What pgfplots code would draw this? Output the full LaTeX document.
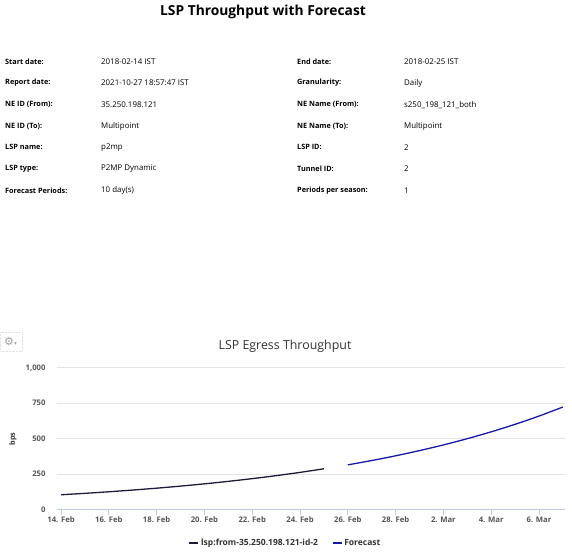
\documentclass[border=0pt]{standalone}
\usepackage{fontspec}
\setmainfont{Open Sans}
\newfontfamily\dejavu{DejaVu Sans}
\usepackage{pgfplots}
\usepackage{pgfplotstable}
\pgfplotsset{compat=1.18}
\definecolor{actualc}{HTML}{1C1C3A}
\definecolor{fcc}{HTML}{1818A8}
\definecolor{gridc}{HTML}{E3E3E3}
\definecolor{axisc}{HTML}{C0CCE0}
\definecolor{labc}{HTML}{555555}
\definecolor{titc}{HTML}{333333}

\pgfplotstableread{
day val
0 104.0
1 114.1
2 125.1
3 137.2
4 150.4
5 165.0
6 181.0
7 198.5
8 217.7
9 238.7
10 261.8
11 287.1
}\actual
\pgfplotstableread{
day val
12 314.9
13 345.3
14 378.7
15 415.3
16 455.5
17 499.5
18 547.8
19 600.8
20 658.9
21 722.6
}\forecast

\begin{document}
\begin{tikzpicture}[x=1pt,y=1pt]
\useasboundingbox (0,0) rectangle (572,558);
\node[font=\bfseries\fontsize{13.8}{16}\selectfont] at (263,546) {LSP Throughput with Forecast};
\begin{scope}[every node/.style={anchor=west,inner sep=0pt,font=\fontsize{7.9}{9}\selectfont}]
\foreach \yy/\la/\va/\lb/\vb in {
61.5/Start date:/2018-02-14 IST/End date:/2018-02-25 IST,
83/Report date:/2021-10-27 18:57:47 IST/Granularity:/Daily,
104.7/NE ID (From):/35.250.198.121/NE Name (From):/s250\_198\_121\_both,
126/NE ID (To):/Multipoint/NE Name (To):/Multipoint,
147.3/LSP name:/p2mp/LSP ID:/2,
169/LSP type:/P2MP Dynamic/Tunnel ID:/2,
190.7/Forecast Periods:/10 day(s)/Periods per season:/1}{
\node[font=\bfseries\fontsize{7.3}{9}\selectfont] at (5,558-\yy) {\la};
\node at (101,558-\yy) {\va};
\node[font=\bfseries\fontsize{7.3}{9}\selectfont] at (297,558-\yy) {\lb};
\node at (404,558-\yy) {\vb};
}
\end{scope}
% gear menu
\draw[gridc,densely dotted] (0,558-351) rectangle (22,558-332);
\node[inner sep=0pt,text=gray!75,font=\dejavu\fontsize{11}{12}\selectfont] at (10.5,558-341.5) {⚙\scalebox{0.5}{▾}};
% chart title
\node[text=titc,font=\fontsize{12.4}{14}\selectfont] at (285,558-346.5) {LSP Egress Throughput};
\node[rotate=90,text=titc,font=\bfseries\fontsize{7.3}{8}\selectfont] at (13,558-439) {bps};
\begin{axis}[
  at={(57pt,48.5pt)}, anchor=south west,
  width=508pt, height=141.8pt, scale only axis,
  xmin=-0.17, xmax=21.09, ymin=0, ymax=1000,
  axis lines*=left,
  x axis line style={axisc},
  y axis line style={draw=none},
  xtick={0,2,...,20},
  xticklabels={14. Feb,16. Feb,18. Feb,20. Feb,22. Feb,24. Feb,26. Feb,28. Feb,2. Mar,4. Mar,6. Mar},
  ytick={0,250,500,750,1000},
  tick align=outside, major tick length=5pt,
  xtick style={axisc, thick},
  ytick style={draw=none},
  ymajorgrids, grid style={gridc, line width=0.8pt},
  tick label style={text=labc, font=\bfseries\fontsize{7.7}{8}\selectfont},
  /pgf/number format/assume math mode=true,
  /pgf/number format/1000 sep={,},
  yticklabel style={xshift=-3pt},
  xticklabel style={yshift=1pt},
  legend columns=2,
  legend style={draw=none, fill=none, at={(axis description cs:0.45,-0.236)}, anchor=center,
    font=\bfseries\fontsize{8.5}{9}\selectfont, text=titc,
    /tikz/every even column/.append style={column sep=12pt}},
  legend image code/.code={\draw[#1] (0pt,0pt) -- (9pt,0pt);},
]
\addplot[actualc, line width=1.3pt, smooth] table[x=day,y=val] {\actual};
\addlegendentry{lsp:from-35.250.198.121-id-2}
\addplot[fcc, line width=1.3pt, smooth] table[x=day,y=val] {\forecast};
\addlegendentry{Forecast}
\end{axis}
\end{tikzpicture}
\end{document}
